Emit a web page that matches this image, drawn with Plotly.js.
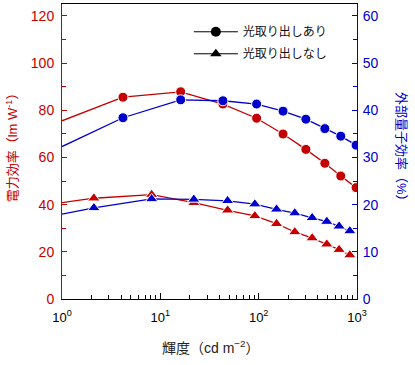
<!DOCTYPE html>
<html><head><meta charset="utf-8">
<script src="https://cdn.plot.ly/plotly-3.0.1.min.js"></script>
<style>html,body{margin:0;padding:0;background:#fff}#chart{width:415px;height:365px}</style>
</head><body><div id="chart"></div>
<script>
// Luminance (cd m^-2); first value is the line's start at the left axis edge
const lumCircle = [1, 4.17, 16.1, 43.3, 95.3, 177, 302, 471, 684, 979];
const peCircle  = [75.5, 85.5, 87.8, 82.6, 76.6, 69.9, 63.4, 57.5, 52.1, 47.2];
const eqeCircle = [32.3, 38.4, 42.2, 42.0, 41.3, 39.8, 38.1, 36.1, 34.5, 32.6];
const lumTri = [1, 2.11, 8.16, 21.9, 48.3, 91.4, 152, 233, 350, 493, 658, 845];
const peTri  = [40.8, 42.7, 44.2, 40.8, 37.6, 35.2, 31.9, 28.4, 25.8, 23.2, 20.9, 18.6];
const eqeTri = [18.0, 19.3, 21.2, 21.1, 20.8, 20.1, 19.0, 18.2, 17.2, 16.4, 15.4, 14.4];

const xTickVals = [1, 10, 100, 1000];
const xTickLabels = ['10<sup>0</sup>', '10<sup>1</sup>', '10<sup>2</sup>', '10<sup>3</sup>'];
const seriesNames = ['光取り出しあり', '光取り出しなし'];
const xTitle = '輝度（cd m<sup>−2</sup>）';
const yTitle = '電力効率（lm W<sup>-1</sup>）';
const y2Title = '外部量子効率（%）';

const RED = '#c40000', BLUE = '#0000cc';
const FONT = 'Liberation Sans, Arial, Noto Sans CJK JP, sans-serif';
const sizes = (arr, s) => arr.map((v, i) => i === 0 ? 0 : s);

const minorX = [];
[1, 10, 100].forEach(d => { for (let k = 2; k <= 9; k++) minorX.push(k * d); });

const traces = [
  {x: lumCircle, y: peCircle, yaxis: 'y', mode: 'lines+markers', showlegend: false,
   line: {color: RED, width: 1.3}, marker: {symbol: 'circle', color: RED, opacity: 1, size: sizes(lumCircle, 10)}},
  {x: lumCircle, y: eqeCircle, yaxis: 'y2', mode: 'lines+markers', showlegend: false,
   line: {color: BLUE, width: 1.3}, marker: {symbol: 'circle', color: BLUE, opacity: 1, size: sizes(lumCircle, 10)}},
  {x: lumTri, y: peTri, yaxis: 'y', mode: 'lines+markers', showlegend: false,
   line: {color: RED, width: 1.3}, marker: {symbol: 'triangle-up', color: RED, opacity: 1, size: sizes(lumTri, 11)}},
  {x: lumTri, y: eqeTri, yaxis: 'y2', mode: 'lines+markers', showlegend: false,
   line: {color: BLUE, width: 1.3}, marker: {symbol: 'triangle-up', color: BLUE, opacity: 1, size: sizes(lumTri, 11)}},
  {x: [null], y: [null], name: seriesNames[0], mode: 'lines+markers', legendgroup: 'a',
   line: {color: '#000', width: 1}, marker: {symbol: 'circle', color: '#000', size: 10}},
  {x: [null], y: [null], name: seriesNames[1], mode: 'lines+markers', legendgroup: 'b',
   line: {color: '#000', width: 1}, marker: {symbol: 'triangle-up', color: '#000', size: 10}}
];

const layout = {
  width: 415, height: 365,
  margin: {l: 62, r: 58, t: 4, b: 66},
  paper_bgcolor: '#fff', plot_bgcolor: '#fff',
  font: {family: FONT, size: 13, color: '#000'},
  showlegend: true,
  legend: {x: 0.43, y: 0.955, xanchor: 'left', yanchor: 'top', bgcolor: 'rgba(0,0,0,0)',
           font: {size: 12, color: '#111'}, itemwidth: 44, traceorder: 'grouped', tracegroupgap: 3},
  xaxis: {type: 'log', range: [0, 3], showgrid: false, zeroline: false,
          showline: true, linecolor: '#000', linewidth: 1, mirror: true,
          ticks: 'inside', ticklen: 6, tickcolor: '#000', tickwidth: 1,
          tickmode: 'array', tickvals: xTickVals, ticktext: xTickLabels,
          tickfont: {size: 13, color: '#000'}, ticklabelstandoff: 6,
          minor: {tickmode: 'array', tickvals: minorX, ticks: 'inside', ticklen: 4, tickcolor: '#000', showgrid: false}},
  yaxis: {range: [0, 125], showgrid: false, zeroline: false,
          showline: true, linecolor: RED, linewidth: 1,
          ticks: 'inside', ticklen: 5, tickcolor: RED, dtick: 20, tick0: 0,
          tickfont: {size: 14, color: RED}, ticklabelstandoff: 4,
          minor: {dtick: 10, tick0: 0, ticks: 'inside', ticklen: 4, tickcolor: RED, showgrid: false}},
  yaxis2: {range: [0, 62.5], overlaying: 'y', side: 'right', showgrid: false, zeroline: false,
           showline: true, linecolor: BLUE, linewidth: 1,
           ticks: 'inside', ticklen: 5, tickcolor: BLUE, dtick: 10, tick0: 0,
           tickfont: {size: 14, color: BLUE}, ticklabelstandoff: 2,
           minor: {dtick: 5, tick0: 0, ticks: 'inside', ticklen: 4, tickcolor: BLUE, showgrid: false}},
  annotations: [
    {text: xTitle, xref: 'paper', yref: 'paper', x: 0.505, y: -0.163, xanchor: 'center', yanchor: 'middle',
     showarrow: false, font: {size: 14, color: '#222'}},
    {text: yTitle, xref: 'paper', yref: 'paper', x: -0.169, y: 0.525, xanchor: 'center', yanchor: 'middle',
     showarrow: false, textangle: -90, font: {size: 13, color: RED}},
    {text: y2Title, xref: 'paper', yref: 'paper', x: 1.153, y: 0.505, xanchor: 'center', yanchor: 'middle',
     showarrow: false, textangle: 90, font: {size: 13, color: BLUE}}
  ]
};

Plotly.newPlot('chart', traces, layout, {displayModeBar: false, staticPlot: true});
</script></body></html>
